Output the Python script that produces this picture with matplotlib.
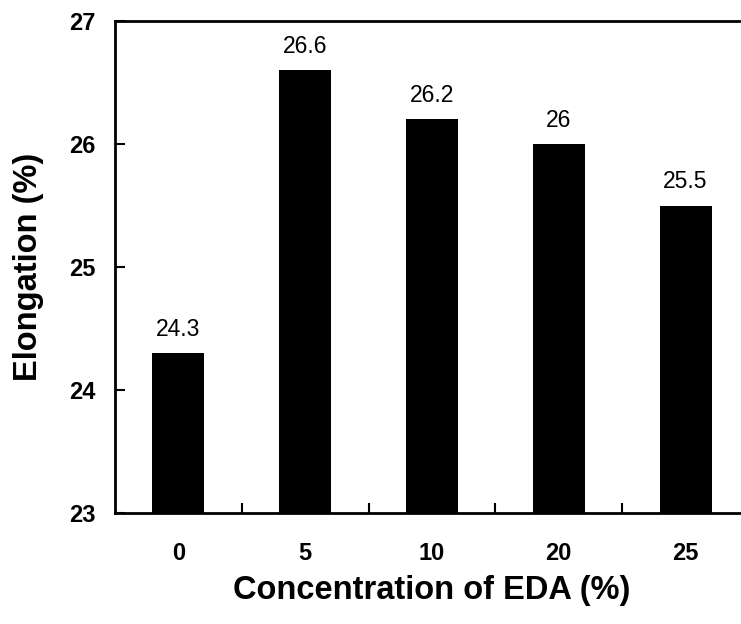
import matplotlib
matplotlib.use("Agg")
import matplotlib.pyplot as plt

categories = ["0", "5", "10", "20", "25"]
values = [24.3, 26.6, 26.2, 26.0, 25.5]
value_labels = ["24.3", "26.6", "26.2", "26", "25.5"]
yticks = [23, 24, 25, 26, 27]

plt.rcParams['font.family'] = ['Liberation Sans', 'DejaVu Sans']

fig = plt.figure(figsize=(7.41, 6.24), dpi=100)
W, H = 741, 624
left, right, top, bottom = 115, 749, 21, 513
ax = fig.add_axes([left / W, 1 - bottom / H, (right - left) / W, (bottom - top) / H])

x = list(range(len(categories)))
ax.bar(x, [v - 23 for v in values], bottom=23, width=0.41, color='black')
for xi, v, lab in zip(x, values, value_labels):
    ax.text(xi, v + 0.1, lab, ha='center', va='bottom', fontsize=16.5)

ax.set_xlim(-0.5, len(categories) - 0.5)
ax.set_ylim(23, 27)
ax.set_yticks(yticks)
ax.set_yticklabels([str(t) for t in yticks], fontsize=17, fontweight='bold')

ax.set_xticks(x)
ax.set_xticklabels(categories, fontsize=17, fontweight='bold')
ax.tick_params(axis='x', which='major', length=0, pad=21)
ax.set_xticks([i + 0.5 for i in range(len(categories) - 1)], minor=True)
ax.tick_params(axis='x', which='minor', direction='in', length=7, width=1.5)
ax.tick_params(axis='y', which='major', direction='in', length=7, width=1.5, pad=14)

for s in ax.spines.values():
    s.set_linewidth(2)

ax.set_xlabel("Concentration of EDA (%)", fontsize=23.5, fontweight='bold', labelpad=7)
ax.set_ylabel("Elongation (%)", fontsize=23.5, fontweight='bold', labelpad=18)

fig.savefig("out.png", dpi=100)
